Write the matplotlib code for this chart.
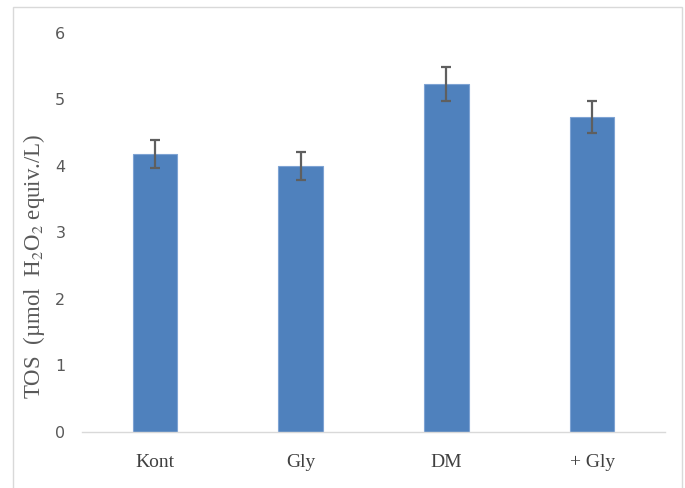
import matplotlib
matplotlib.use('Agg')
import matplotlib.pyplot as plt
from matplotlib.patches import Rectangle

# data
groups = ['Kont', 'Gly', 'DM', '+ Gly']
tos = [4.18, 3.99, 5.23, 4.73]
tos_err = [0.21, 0.21, 0.26, 0.24]
yticks = [0, 1, 2, 3, 4, 5, 6]

plt.rcParams['mathtext.fontset'] = 'stix'

fig = plt.figure(figsize=(6.85, 4.88), dpi=100)
ax = fig.add_axes([82/685, 1-432/488, 583/685, (432-32.7)/488])

x = range(len(groups))
ax.bar(x, tos, width=0.307, color='#4f81bd', edgecolor='#7ea3d3', linewidth=0.8,
       yerr=tos_err, error_kw=dict(ecolor='#5f5f5f', elinewidth=1.6, capsize=3.3, capthick=1.6))

ax.set_xlim(-0.5, len(groups)-0.5)
ax.set_ylim(0, 6)
ax.set_yticks(yticks)
ax.set_xticks(list(x))
ax.set_xticklabels(groups, fontfamily='Liberation Serif', fontsize=14, color='#404040')
for lab in ax.get_yticklabels():
    lab.set_fontfamily(['Liberation Sans Narrow', 'DejaVu Sans'])
    lab.set_fontsize(11.5)
    lab.set_color('#595959')
ax.tick_params(axis='y', length=0, pad=12)
ax.tick_params(axis='x', length=0, pad=16)

for s in ['top', 'right', 'left']:
    ax.spines[s].set_visible(False)
ax.spines['bottom'].set_color('#d9d9d9')
ax.spines['bottom'].set_linewidth(1.0)

fig.text(34/685, 1-266.7/488, r'TOS  (µmol  H$_2$O$_2$ equiv./L)', rotation=90,
         ha='center', va='center', fontfamily='Liberation Serif', fontsize=16.5, color='#595959')

# outer frame of the chart area
fig.add_artist(Rectangle((13/685, -0.02), (682-13)/685, 1.02-7/488, transform=fig.transFigure,
                         fill=False, edgecolor='#d9d9d9', linewidth=1.0))

fig.savefig('out.png', dpi=100)
